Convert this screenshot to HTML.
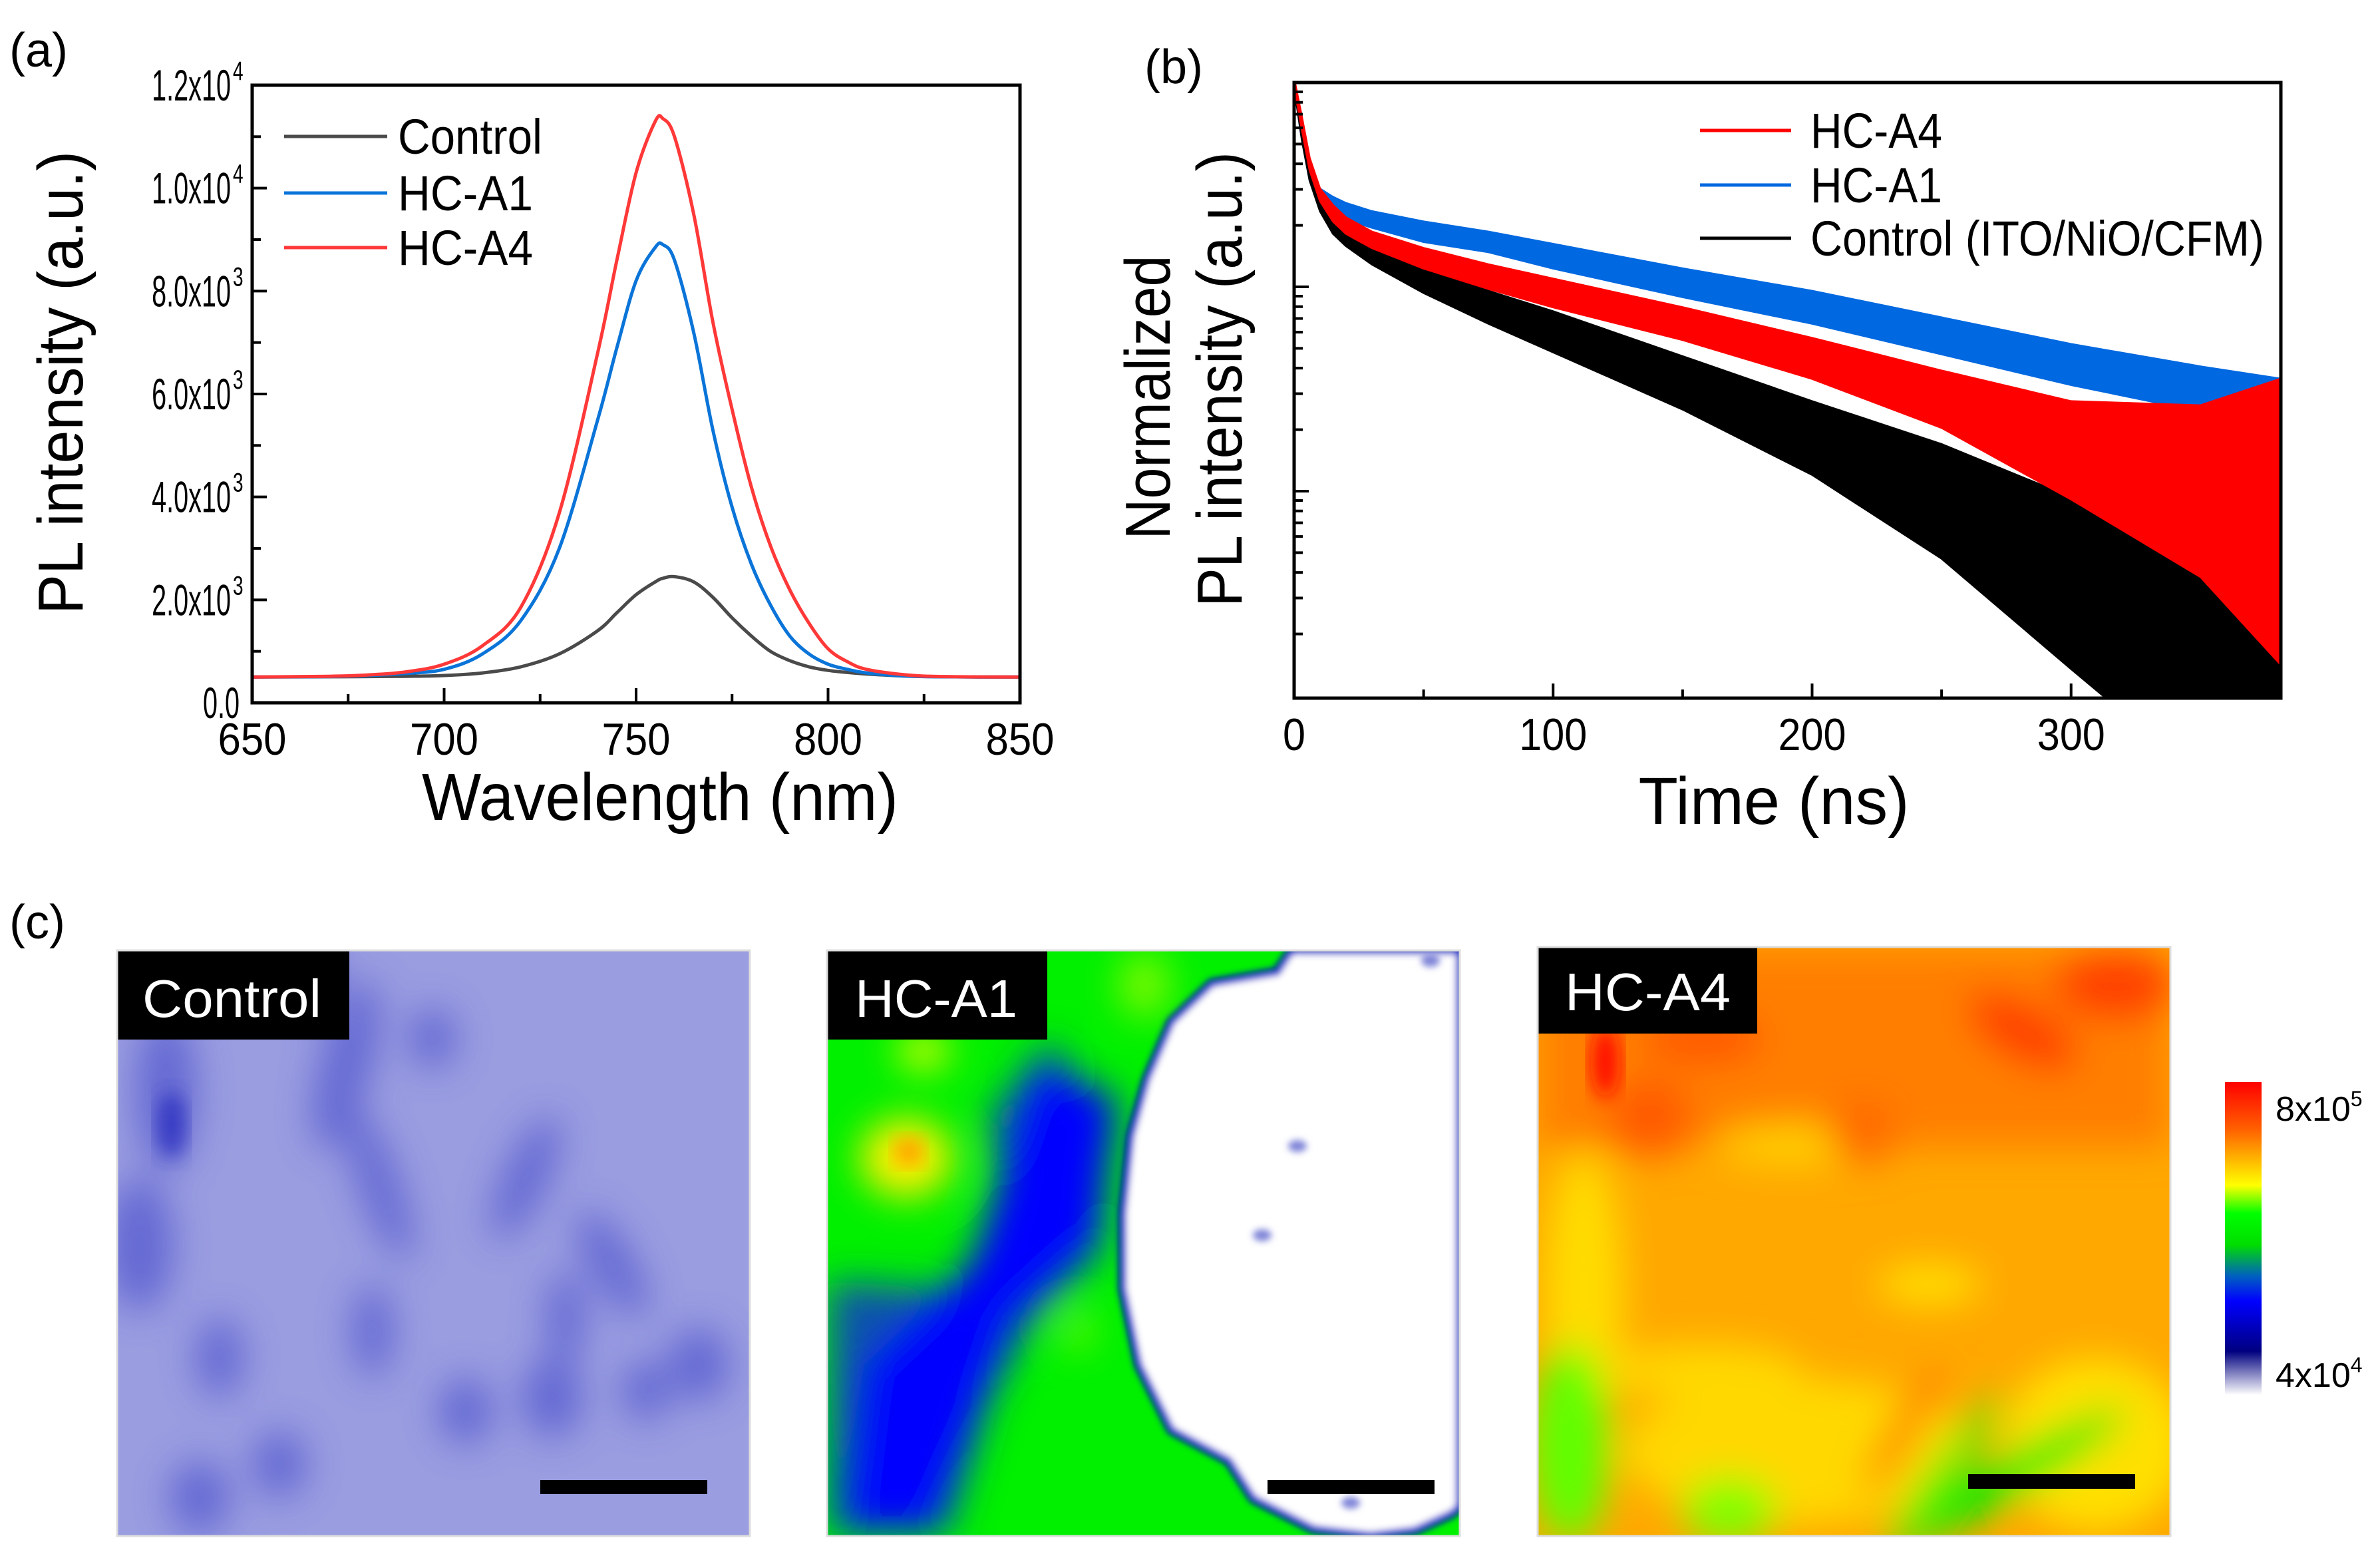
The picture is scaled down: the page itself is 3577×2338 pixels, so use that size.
<!DOCTYPE html>
<html><head><meta charset="utf-8"><style>
html,body{margin:0;padding:0;background:#fff;}
svg{display:block;font-family:"Liberation Sans",Arial,sans-serif;}
</style></head><body>
<svg id="fig" width="3577" height="2338" viewBox="0 0 3577 2338" xmlns="http://www.w3.org/2000/svg">
<defs>
  <filter id="blur30" x="-20%" y="-20%" width="140%" height="140%"><feGaussianBlur stdDeviation="28"/></filter>
  <filter id="blur14" x="-20%" y="-20%" width="140%" height="140%"><feGaussianBlur stdDeviation="14"/></filter>
  <filter id="blur6"><feGaussianBlur stdDeviation="5"/></filter>
  <clipPath id="clipA"><rect x="379" y="128" width="1154" height="928"/></clipPath>
  <clipPath id="clipB"><rect x="1945" y="124" width="1483" height="925"/></clipPath>
  <clipPath id="clipC1"><rect x="176" y="1428" width="951" height="880"/></clipPath>
  <clipPath id="clipC2"><rect x="1243" y="1428" width="951" height="880"/></clipPath>
  <clipPath id="clipC3"><rect x="2311" y="1423" width="951" height="885"/></clipPath>
  <linearGradient id="cbar" x1="0" y1="0" x2="0" y2="1">
    <stop offset="0" stop-color="#ff0000"/>
    <stop offset="0.15" stop-color="#ff6000"/>
    <stop offset="0.33" stop-color="#ffff00"/>
    <stop offset="0.42" stop-color="#00ff00"/>
    <stop offset="0.52" stop-color="#00dd00"/>
    <stop offset="0.62" stop-color="#0060c0"/>
    <stop offset="0.7" stop-color="#0000ff"/>
    <stop offset="0.86" stop-color="#000080"/>
    <stop offset="1" stop-color="#ffffff"/>
  </linearGradient>
</defs>

<text x="14" y="100" font-size="72">(a)</text>
<text x="1720" y="125" font-size="72">(b)</text>
<text x="14" y="1410" font-size="72">(c)</text>

<g id="panelA"></g>
<g id="panelB"></g>

<g>
  <g clip-path="url(#clipC1)">
    <rect x="176" y="1428" width="951" height="880" fill="#9a9de0"/>
    <g filter="url(#blur30)" fill="#5a5fd0" opacity="0.85">
      <ellipse cx="250" cy="1640" rx="45" ry="120"/>
      <ellipse cx="210" cy="1870" rx="50" ry="100"/>
      <ellipse cx="475" cy="1470" rx="30" ry="55"/>
      <ellipse cx="520" cy="1600" rx="38" ry="130" transform="rotate(15 520 1600)"/>
      <ellipse cx="570" cy="1780" rx="30" ry="120" transform="rotate(-20 570 1780)"/>
      <ellipse cx="790" cy="1770" rx="32" ry="100" transform="rotate(25 790 1770)"/>
      <ellipse cx="830" cy="2100" rx="45" ry="60"/>
      <ellipse cx="920" cy="1900" rx="32" ry="90" transform="rotate(-30 920 1900)"/>
      <ellipse cx="850" cy="1980" rx="28" ry="70"/>
      <ellipse cx="970" cy="2090" rx="35" ry="45"/>
      <ellipse cx="330" cy="2040" rx="35" ry="60"/>
      <ellipse cx="1050" cy="2050" rx="45" ry="55"/>
      <ellipse cx="650" cy="1560" rx="35" ry="45"/>
      <ellipse cx="300" cy="2250" rx="45" ry="55"/>
      <ellipse cx="560" cy="2000" rx="30" ry="70"/>
      <ellipse cx="700" cy="2120" rx="40" ry="50"/>
      <ellipse cx="420" cy="2200" rx="40" ry="50"/>
    </g>
    <g filter="url(#blur14)" fill="#2a2fc0" opacity="0.8">
      <ellipse cx="258" cy="1690" rx="22" ry="50"/>
    </g>
    <rect x="176" y="1428" width="349" height="134" fill="#000"/>
    <rect x="812" y="2224" width="251" height="21" fill="#000"/>
  </g>
  <rect x="176" y="1428" width="951" height="880" fill="none" stroke="#ddd" stroke-width="3"/>
  <text x="214" y="1528" font-size="80" fill="#fff" textLength="269" lengthAdjust="spacingAndGlyphs">Control</text>
</g>

<g>
  <g clip-path="url(#clipC2)">
    <rect x="1243" y="1428" width="951" height="880" fill="#00f000"/>
    <g filter="url(#blur30)">
      <polygon points="1577,1564 1668,1678 1656,1879 1546,1994 1485,2109 1424,2304 1246,2304 1246,1925 1424,1937 1515,1822 1485,1678" fill="#1040c0" opacity="0.9"/>
      <polygon points="1560,1600 1680,1650 1650,1860 1520,1980 1460,2150 1400,2300 1270,2300 1300,2050 1460,1900" fill="#0000ff"/>
      <ellipse cx="1362" cy="1740" rx="70" ry="60" fill="#ffee00"/>
      <ellipse cx="1388" cy="1580" rx="40" ry="28" fill="#ddff00"/>
      <ellipse cx="1620" cy="2000" rx="25" ry="30" fill="#aaff00" opacity="0.6"/>
      <ellipse cx="1720" cy="1480" rx="40" ry="50" fill="#ccff00" opacity="0.6"/>
    </g>
    <ellipse cx="1366" cy="1730" rx="22" ry="22" fill="#ffa000" filter="url(#blur14)"/>
    <path d="M1944,1428 L1938,1431 L1919,1460 L1821,1477 L1760,1535 L1723,1621 L1699,1707 L1687,1822 L1687,1937 L1711,2051 L1760,2149 L1846,2195 L1883,2252 L1974,2298 L2060,2308 L2127,2300 L2182,2275 L2194,2265 L2194,1428 Z" fill="#fff" stroke="#0000d0" stroke-width="12" filter="url(#blur6)"/>
    <g fill="#8085d8" filter="url(#blur6)">
      <ellipse cx="2150" cy="1443" rx="14" ry="10"/>
      <ellipse cx="1950" cy="1722" rx="14" ry="9"/>
      <ellipse cx="1897" cy="1856" rx="14" ry="9"/>
      <ellipse cx="2030" cy="2258" rx="14" ry="9"/>
    </g>
    <rect x="1243" y="1428" width="331" height="134" fill="#000"/>
    <rect x="1905" y="2224" width="251" height="21" fill="#000"/>
  </g>
  <rect x="1243" y="1428" width="951" height="880" fill="none" stroke="#ddd" stroke-width="3"/>
  <text x="1285" y="1528" font-size="80" fill="#fff" textLength="244" lengthAdjust="spacingAndGlyphs">HC-A1</text>
</g>

<g>
  <g clip-path="url(#clipC3)">
    <rect x="2311" y="1423" width="951" height="885" fill="#ffa800"/>
    <g filter="url(#blur30)">
      <rect x="2311" y="1423" width="951" height="300" fill="#ff7000" opacity="0.75"/>
      <ellipse cx="2380" cy="1950" rx="60" ry="220" fill="#ffdc00"/>
      <ellipse cx="2560" cy="2060" rx="150" ry="40" fill="#ffd800"/>
      <ellipse cx="2700" cy="2180" rx="260" ry="110" fill="#ffd800"/>
      <ellipse cx="3150" cy="2170" rx="140" ry="130" fill="#ffe000"/>
      <ellipse cx="2900" cy="1930" rx="80" ry="30" fill="#ffe000"/>
      <ellipse cx="2700" cy="1720" rx="120" ry="30" fill="#ffd000"/>
      <ellipse cx="2360" cy="2170" rx="60" ry="150" fill="#60ff00"/>
      <ellipse cx="2600" cy="2270" rx="70" ry="50" fill="#80ff00"/>
      <ellipse cx="3020" cy="2220" rx="200" ry="30" transform="rotate(-30 3020 2220)" fill="#00ee00"/>
      <ellipse cx="2920" cy="2220" rx="150" ry="22" transform="rotate(-55 2920 2220)" fill="#40f000"/>
      <ellipse cx="3180" cy="1480" rx="90" ry="50" fill="#ff4000"/>
      <ellipse cx="3040" cy="1550" rx="90" ry="40" transform="rotate(30 3040 1550)" fill="#ff4000"/>
      <ellipse cx="2860" cy="2150" rx="110" ry="18" transform="rotate(-60 2860 2150)" fill="#ff7000"/>
      <ellipse cx="2560" cy="1560" rx="90" ry="40" fill="#ff5a00"/>
      <ellipse cx="2480" cy="1680" rx="60" ry="60" fill="#ff5a00"/>
      <ellipse cx="2800" cy="1700" rx="50" ry="50" fill="#ff6a00"/>
    </g>
    <ellipse cx="2413" cy="1595" rx="22" ry="55" fill="#ff1000" filter="url(#blur14)"/>
    <rect x="2311" y="1419" width="330" height="134" fill="#000"/>
    <rect x="2958" y="2215" width="251" height="22" fill="#000"/>
  </g>
  <rect x="2311" y="1423" width="951" height="885" fill="none" stroke="#ddd" stroke-width="3"/>
  <text x="2352" y="1518" font-size="80" fill="#fff" textLength="249" lengthAdjust="spacingAndGlyphs">HC-A4</text>
</g>

<g>
  <rect x="3344" y="1626" width="55" height="470" fill="url(#cbar)"/>
  <text x="3420" y="1684" font-size="52">8x10<tspan font-size="32" dy="-22">5</tspan></text>
  <text x="3420" y="2084" font-size="52">4x10<tspan font-size="32" dy="-22">4</tspan></text>
</g>
</svg>
<script>
// ---------- Panel A data ----------
const wl = [650,670,680,690,700,710,720,730,740,745,750,755,757,760,765,770,775,780,785,790,795,800,805,810,820,830,850];
const controlPL = [500,505,510,515,530,580,700,950,1400,1750,2100,2350,2420,2450,2350,2050,1650,1300,1000,820,700,630,590,560,520,505,500];
const hca1PL = [500,510,530,570,650,950,1600,3000,5500,6900,8200,8850,8900,8600,7200,5300,3800,2700,1900,1300,950,750,650,580,520,505,500];
const hca4PL = [500,515,540,600,750,1110,1860,3690,6800,8600,10300,11300,11350,11000,9500,7400,5700,4200,3050,2200,1550,1050,800,650,545,510,500];
const aXTicks = [650,700,750,800,850];
const aYTicks = [0,2000,4000,6000,8000,10000,12000];
const aYTickMant = ["0.0","2.0x10","4.0x10","6.0x10","8.0x10","1.0x10","1.2x10"];
const aYTickExp = ["","3","3","3","3","4","4"];

// ---------- Panel B data (log10 of normalized intensity) ----------
const tns = [0,3,6,10,15,20,30,50,75,100,150,200,250,300,350,381];
const hca4Log = [0,-0.2,-0.4,-0.55,-0.64,-0.7,-0.77,-0.86,-0.95,-1.03,-1.18,-1.35,-1.55,-1.8,-2.0,-2.15];
const hca4Spread = [0.02,0.03,0.03,0.03,0.04,0.04,0.04,0.05,0.06,0.07,0.08,0.1,0.14,0.24,0.42,0.7];
const hca1Log = [0,-0.25,-0.45,-0.55,-0.6,-0.63,-0.67,-0.73,-0.78,-0.85,-0.98,-1.1,-1.24,-1.38,-1.5,-1.58];
const hca1Spread = [0.02,0.03,0.03,0.03,0.04,0.04,0.04,0.05,0.05,0.06,0.07,0.08,0.09,0.1,0.11,0.13];
const ctrlLog = [0,-0.25,-0.45,-0.6,-0.7,-0.76,-0.84,-0.97,-1.1,-1.22,-1.47,-1.74,-2.05,-2.45,-2.8,-3.0];
const ctrlSpread = [0.02,0.03,0.03,0.03,0.04,0.04,0.05,0.06,0.08,0.1,0.13,0.18,0.28,0.42,0.6,0.7];
const bXTicks = [0,100,200,300];
const bYDecades = [-3,-2,-1,0];

const NS = "http://www.w3.org/2000/svg";
function mk(tag, attrs, parent){ const e=document.createElementNS(NS,tag); for(const k in attrs) e.setAttribute(k,attrs[k]); parent.appendChild(e); return e; }
function smoothPath(pts){
  let d = 'M'+pts[0][0].toFixed(1)+','+pts[0][1].toFixed(1);
  for(let i=0;i<pts.length-1;i++){
    const p0=pts[Math.max(0,i-1)], p1=pts[i], p2=pts[i+1], p3=pts[Math.min(pts.length-1,i+2)];
    const c1=[p1[0]+(p2[0]-p0[0])/6, p1[1]+(p2[1]-p0[1])/6];
    const c2=[p2[0]-(p3[0]-p1[0])/6, p2[1]-(p3[1]-p1[1])/6];
    d += ' C'+c1[0].toFixed(1)+','+c1[1].toFixed(1)+' '+c2[0].toFixed(1)+','+c2[1].toFixed(1)+' '+p2[0].toFixed(1)+','+p2[1].toFixed(1);
  }
  return d;
}

// ---- Panel A ----
const A = document.getElementById('panelA');
const ax = w => 379 + (w-650)/200*1154;
const ay = v => 1056 - v/12000*928;
function lineA(vals,color,name){
  const d = smoothPath(wl.map((w,i)=>[ax(w),ay(vals[i])]));
  const p = mk('path',{d:d,fill:'none',stroke:color,'stroke-width':5,'stroke-linejoin':'round','clip-path':'url(#clipA)'},A);
  
  
}
lineA(controlPL,'#4a4a4a','line-control');
lineA(hca1PL,'#0a74d8','line-hc-a1');
lineA(hca4PL,'#ff3838','line-hc-a4');
const frA = mk('rect',{x:379,y:128,width:1154,height:928,fill:'none',stroke:'#000','stroke-width':5},A);


for(let w=650; w<=850; w+=25){
  const major = aXTicks.includes(w);
  mk('line',{x1:ax(w),x2:ax(w),y1:1056,y2:1056-(major?22:13),stroke:'#000','stroke-width':4},A);
}
for(let v=0; v<=12000; v+=1000){
  const major = aYTicks.includes(v);
  mk('line',{x1:379,x2:379+(major?22:13),y1:ay(v),y2:ay(v),stroke:'#000','stroke-width':4},A);
}
aXTicks.forEach(w=>{
  const t = mk('text',{x:ax(w),y:1134,'font-size':68,'text-anchor':'middle',textLength:103,lengthAdjust:'spacingAndGlyphs'},A);
  t.textContent = w;
  
  
});
aYTicks.forEach((v,i)=>{
  const hasExp = !!aYTickExp[i];
  const t = mk('text',{x:0,y:0,'font-size':66,'text-anchor':'end',transform:'translate('+(hasExp?347:360)+','+(ay(v)+23).toFixed(1)+') scale(0.6,1)'},A);
  t.textContent = aYTickMant[i];
  
  
  if(hasExp){
    const s = mk('text',{x:0,y:0,'font-size':40,transform:'translate(350,'+(ay(v)-8).toFixed(1)+') scale(0.7,1)'},A);
    s.textContent = aYTickExp[i];
  }
});
const xtA = mk('text',{x:992,y:1232,'font-size':100,'text-anchor':'middle',textLength:716,lengthAdjust:'spacingAndGlyphs'},A);
xtA.textContent='Wavelength (nm)';


const ytA = mk('text',{x:0,y:0,'font-size':96,'text-anchor':'middle',textLength:696,lengthAdjust:'spacingAndGlyphs',transform:'translate(124,575) rotate(-90)'},A);
ytA.textContent='PL intensity (a.u.)';


const legA = [['Control','#4a4a4a',205,217],['HC-A1','#0a74d8',290,203],['HC-A4','#ff3838',372,203]];
legA.forEach(l=>{
  const g = mk('g',{},A);
  
  
  mk('line',{x1:427,x2:582,y1:l[2],y2:l[2],stroke:l[1],'stroke-width':5},g);
  const t = mk('text',{x:598,y:l[2]+26,'font-size':74,textLength:l[3],lengthAdjust:'spacingAndGlyphs'},g); t.textContent=l[0];
});

// ---- Panel B ----
const B = document.getElementById('panelB');
const bx = t => 1945 + t/381*1483;
const by = l => 124 - l*307;
function bandB(vals,spread,color,name){
  let up = tns.map((t,i)=>bx(t).toFixed(1)+','+by(vals[i]+spread[i]).toFixed(1));
  let lo = tns.map((t,i)=>bx(t).toFixed(1)+','+by(vals[i]-spread[i]).toFixed(1)).reverse();
  const p = mk('polygon',{points:up.concat(lo).join(' '),fill:color,stroke:color,'stroke-width':3,'clip-path':'url(#clipB)'},B);
  
  
}
bandB(hca1Log,hca1Spread,'#0068e0','trace-hc-a1');
bandB(ctrlLog,ctrlSpread,'#000000','trace-control');
bandB(hca4Log,hca4Spread,'#ff0000','trace-hc-a4');
const frB = mk('rect',{x:1945,y:124,width:1483,height:925,fill:'none',stroke:'#000','stroke-width':5},B);


for(let t=0; t<=350; t+=50){
  const major = bXTicks.includes(t);
  mk('line',{x1:bx(t),x2:bx(t),y1:1049,y2:1049-(major?22:13),stroke:'#000','stroke-width':4},B);
}
bYDecades.forEach(d=>{
  if(d<0 && d>-3) mk('line',{x1:1945,x2:1967,y1:by(d),y2:by(d),stroke:'#000','stroke-width':4},B);
  for(let m=2;m<=9;m++){
    const yy = by(d+Math.log10(m));
    if(yy>124 && yy<1049) mk('line',{x1:1945,x2:1958,y1:yy,y2:yy,stroke:'#000','stroke-width':4},B);
  }
});
bXTicks.forEach(t=>{
  const n = String(t).length;
  const tx = mk('text',{x:bx(t),y:1127,'font-size':68,'text-anchor':'middle',textLength:n*34,lengthAdjust:'spacingAndGlyphs'},B);
  tx.textContent=t;
  
  
});
const xtB = mk('text',{x:2666,y:1238,'font-size':100,'text-anchor':'middle',textLength:407,lengthAdjust:'spacingAndGlyphs'},B);
xtB.textContent='Time (ns)';


const ytB1 = mk('text',{x:0,y:0,'font-size':96,'text-anchor':'middle',textLength:427,lengthAdjust:'spacingAndGlyphs',transform:'translate(1758,597) rotate(-90)'},B);
ytB1.textContent='Normalized';


const ytB2 = mk('text',{x:0,y:0,'font-size':96,'text-anchor':'middle',textLength:684,lengthAdjust:'spacingAndGlyphs',transform:'translate(1866,570) rotate(-90)'},B);
ytB2.textContent='PL intensity (a.u.)';


const legB = [['HC-A4','#ff0000',196,198],['HC-A1','#0068e0',278,198],['Control (ITO/NiO/CFM)','#000',358,682]];
legB.forEach(l=>{
  const g = mk('g',{},B);
  
  
  mk('line',{x1:2555,x2:2692,y1:l[2],y2:l[2],stroke:l[1],'stroke-width':5},g);
  const t = mk('text',{x:2721,y:l[2]+26,'font-size':74,textLength:l[3],lengthAdjust:'spacingAndGlyphs'},g); t.textContent=l[0];
});
</script>
</body></html>
